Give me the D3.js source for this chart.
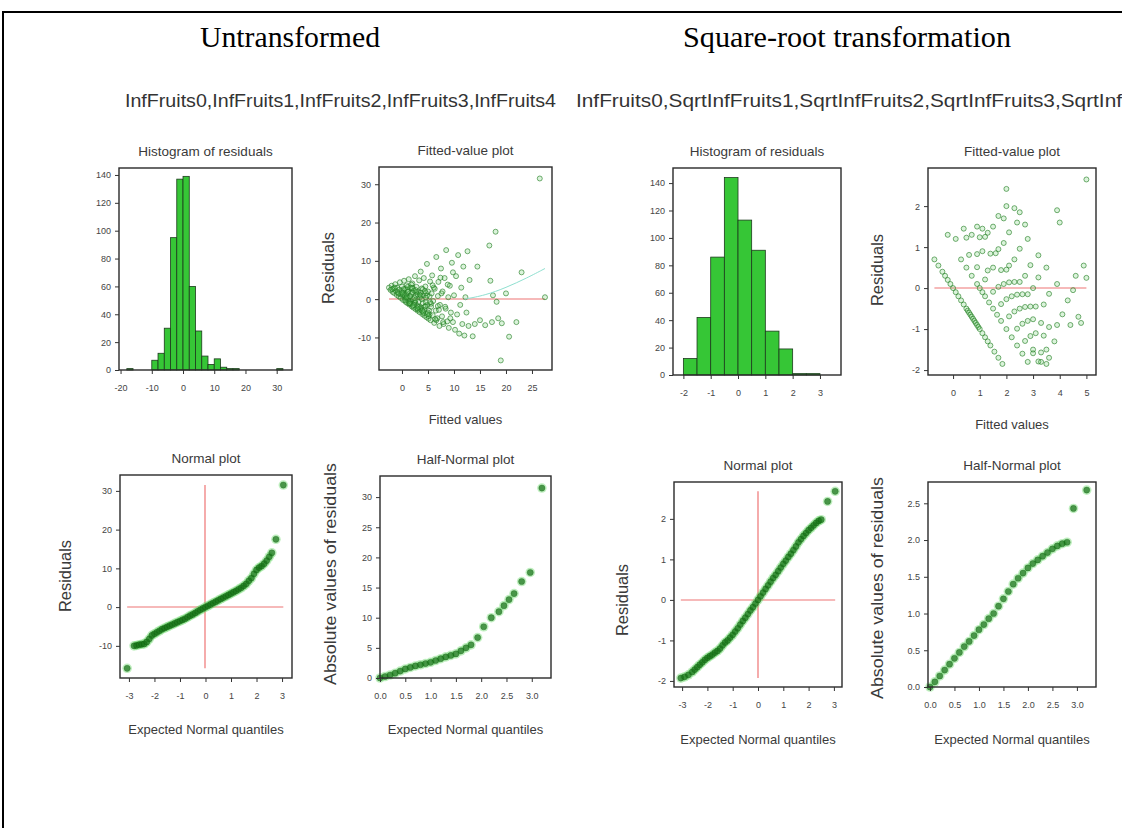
<!DOCTYPE html>
<html><head><meta charset="utf-8">
<script src="https://cdn.jsdelivr.net/npm/d3@7"></script>
<style>body{margin:0;background:#fff;} svg{display:block;}</style>
</head><body><svg id="chart" width="1122" height="828"></svg>
<script>
// ---------------- DATA ----------------
const pageTitles = ["Untransformed", "Square-root transformation"];
const subTitles = ["InfFruits0,InfFruits1,InfFruits2,InfFruits3,InfFruits4",
                   "InfFruits0,SqrtInfFruits1,SqrtInfFruits2,SqrtInfFruits3,SqrtInfFruits4"];

// Histogram, untransformed (bin width 2)
const histBinStartU = [-18,-10,-8,-6,-4,-2,0,2,4,6,8,10,12,14,16,30];
const histCountU    = [1,7,12,30,95,137,139,60,28,10,4,8,2,1,1,1];
const histBinWidthU = 2;
// Histogram, square-root (bin width 0.5)
const histBinStartS = [-2,-1.5,-1,-0.5,0,0.5,1,1.5,2,2.5];
const histCountS    = [12,42,86,144,113,91,32,19,1,1];
const histBinWidthS = 0.5;

// Fitted-value plot, untransformed
const fittedU = [-2.5,-2.2,-2.0,-1.8,-1.6,-1.5,-1.3,-1.2,-1.0,-0.9,-0.8,-0.6,-0.5,-0.4,-0.3,-0.2,-0.1,0.0,
 0.2,0.3,0.4,0.5,0.6,0.7,0.8,0.9,1.0,1.1,1.2,1.3,1.4,1.5,1.6,1.7,1.8,1.9,2.0,2.1,2.2,2.3,2.4,2.5,2.6,2.7,2.8,2.9,3.0,
 3.1,3.2,3.3,3.4,3.5,3.6,3.7,3.8,3.9,4.0,4.1,4.2,4.3,4.4,4.5,4.6,4.7,4.8,4.9,5.0,5.1,5.2,5.3,5.4,5.5,5.6,5.7,5.8,5.9,6.0,
 6.2,6.3,6.5,6.6,6.8,6.9,7.0,7.2,7.3,7.5,7.7,7.8,8.0,8.2,8.4,8.5,8.7,8.9,9.0,9.2,9.4,9.6,9.8,10.0,
 10.2,10.4,10.6,10.8,11.0,11.2,11.4,11.6,11.8,12.0,12.2,12.4,12.6,12.8,13.0,
 13.6,14.0,14.5,15.0,16.0,16.8,17.0,17.3,17.5,18.0,18.2,18.5,19.0,19.2,20.0,20.6,22.0,23.0,26.5,27.5,
 0.5,1.0,1.5,2.0,2.5,3.0,3.5,4.0,4.5,5.0,0.8,1.3,1.8,2.3,2.8,3.3,3.8,4.3,4.8,5.3,1.1,1.6,2.1,2.6,3.1,3.6,4.1,4.6,
 0.1,0.6,1.1,1.6,2.1,2.6,3.1,3.6,4.1,4.6,5.1,5.6,6.1,6.6,7.1,7.6,0.3,0.9,1.4,1.9,2.4,2.9,3.4,3.9,4.4,4.9,5.4,5.9,6.4,6.9,7.4,7.9,8.3,8.8,9.3,9.8,-0.7,-1.4,-1.9,0.0];
const residU = [3.0,2.4,3.5,1.9,2.8,1.6,3.9,2.2,1.1,3.0,1.8,0.7,2.5,4.4,1.3,0.3,2.0,3.3,
 -0.2,1.6,4.8,0.5,2.7,-0.7,1.2,3.6,-1.0,0.4,2.0,5.2,-1.4,0.6,3.0,-0.7,1.4,-1.9,4.1,0.0,-2.2,2.2,-1.0,6.0,-2.6,0.9,3.2,-1.6,-3.0,
 1.9,-0.7,4.9,-3.4,0.5,7.2,-2.2,2.8,-3.9,-1.0,1.0,5.5,-4.3,-2.0,3.3,0.4,-4.7,9.2,-1.5,2.0,-5.1,-3.0,0.7,4.6,-5.5,-2.0,1.5,6.2,-4.2,-0.5,
 -6.2,2.7,-3.0,11.0,-5.0,0.8,4.5,-7.0,-1.5,8.0,-4.5,2.0,-6.5,5.5,-2.5,12.8,-5.8,0.5,-7.5,3.5,-3.5,9.5,-6.0,1.0,
 -8.0,6.0,-4.0,11.5,-9.0,-1.5,3.0,-6.5,8.5,-9.5,0.5,-3.5,12.5,-7.0,5.0,
 -9.7,-6.5,8.5,-5.5,-6.8,14.0,4.8,-6.0,1.0,17.6,-0.7,-5.0,-16.0,-6.3,1.5,-9.8,-6.0,7.0,31.5,0.5,
 1.0,2.5,-1.0,1.8,-0.8,1.2,-2.5,2.6,-1.8,-3.5,0.2,-0.5,3.8,-1.5,1.8,-2.0,0.0,-2.8,0.9,-4.0,3.2,-1.2,2.8,-0.3,-2.7,1.7,-3.3,-0.8,
 1.2,-0.3,1.9,0.8,-1.7,2.4,-2.1,0.9,-3.6,1.6,-4.4,-1.2,3.0,-5.5,-2.8,1.5,2.6,0.5,-1.1,2.9,0.3,-2.4,1.2,-3.0,2.1,-3.9,-0.8,3.6,-5.2,-1.8,5.6,-6.0,-2.0,3.8,-5.0,7.0,1.5,3.0,2.6,1.7];
const smoothFitU = [12, 16, 20, 24, 27.5];
const smoothResU = [0.0, 1.0, 3.0, 5.5, 8.0];

// Fitted-value plot, square-root
const fittedS = [-0.7,-0.55,-0.4,-0.3,-0.2,-0.1,0.0,0.1,0.2,0.3,0.4,0.5,0.55,0.6,0.65,0.7,0.75,0.8,0.85,0.9,0.95,1.0,1.1,1.2,1.3,1.4,1.55,1.7,1.85,
 0.3,0.5,0.7,0.9,1.0,1.1,1.2,1.35,1.5,1.65,1.8,2.0,2.2,2.4,2.6,2.8,
 0.6,0.9,1.2,1.5,1.8,2.1,2.4,2.7,3.0,3.2,
 0.5,0.9,1.3,1.7,2.0,2.3,2.6,2.9,3.3,
 0.7,1.1,1.5,1.9,2.2,2.5,2.8,3.1,3.5,
 1.0,1.4,1.8,2.1,2.4,2.7,3.0,3.4,
 1.2,1.6,2.0,2.3,2.6,2.9,3.3,
 1.3,1.7,2.1,2.5,2.8,3.1,3.6,
 1.5,1.9,2.3,2.7,3.0,3.4,3.9,
 1.7,2.1,2.5,2.9,3.2,3.6,4.1,
 2.0,2.4,2.8,3.2,3.5,3.9,4.3,4.7,
 -0.2,0.1,0.4,1.1,2.0,2.3,3.9,4.0,5.0,4.9,5.0,4.5,4.6,4.4,4.8,3.8,3.6,3.5,2.5,1.9,2.7,3.0,3.3,0.9];
const residS = [0.7,0.55,0.4,0.3,0.2,0.1,0.0,-0.1,-0.2,-0.3,-0.4,-0.5,-0.55,-0.6,-0.65,-0.7,-0.75,-0.8,-0.85,-0.9,-0.95,-1.0,-1.1,-1.2,-1.3,-1.4,-1.55,-1.7,-1.85,
 0.7,0.5,0.3,0.1,0.0,-0.1,-0.2,-0.35,-0.5,-0.65,-0.8,-1.0,-1.2,-1.4,-1.6,-1.8,
 0.81,0.51,0.21,-0.09,-0.39,-0.69,-0.99,-1.29,-1.59,-1.79,
 1.23,0.83,0.43,0.03,-0.27,-0.57,-0.87,-1.17,-1.57,
 1.3,0.9,0.5,0.1,-0.2,-0.5,-0.8,-1.1,-1.5,
 1.24,0.84,0.44,0.14,-0.16,-0.46,-0.76,-1.16,
 1.25,0.85,0.45,0.15,-0.15,-0.45,-0.85,
 1.35,0.95,0.55,0.15,-0.15,-0.45,-0.95,
 1.5,1.1,0.7,0.3,0.0,-0.4,-0.9,
 1.76,1.36,0.96,0.56,0.26,-0.14,-0.64,
 2.0,1.6,1.2,0.8,0.5,0.1,-0.3,-0.7,
 1.3,1.2,1.45,1.45,2.42,1.95,1.9,1.6,2.65,0.55,0.25,-0.05,0.3,-0.9,-0.85,-1.3,-1.7,-1.85,1.85,1.7,1.55,-1.5,-1.8,1.5];

// Normal plot (expected quantile, residual), untransformed
const normQU = [-3.07,-2.8,-2.7,-2.6,-2.5,-2.4,-2.3,-2.2,-2.1,-2.0,-1.9,-1.8,-1.7,-1.6,-1.5,-1.4,-1.3,-1.2,-1.1,-1.0,-0.9,-0.8,-0.7,-0.6,-0.5,-0.4,-0.3,-0.2,-0.1,0.0,
 0.1,0.2,0.3,0.4,0.5,0.6,0.7,0.8,0.9,1.0,1.1,1.2,1.3,1.4,1.5,1.6,1.7,1.8,1.9,2.0,2.1,2.2,2.3,2.4,2.5,2.6,2.76,3.05];
const normRU = [-15.8,-10.0,-9.9,-9.7,-9.6,-9.5,-9.0,-8.2,-7.3,-6.9,-6.5,-6.1,-5.7,-5.4,-5.1,-4.8,-4.5,-4.2,-3.9,-3.6,-3.3,-3.0,-2.6,-2.2,-1.9,-1.5,-1.1,-0.7,-0.35,0.0,
 0.35,0.7,1.05,1.4,1.75,2.1,2.45,2.8,3.15,3.5,3.85,4.2,4.6,5.0,5.5,6.0,6.8,7.5,8.6,9.6,10.2,10.6,11.2,12.0,13.0,14.0,17.5,31.5];
// Half-normal plot, untransformed
const hnQU = [0.0,0.1,0.2,0.3,0.4,0.5,0.6,0.7,0.8,0.9,1.0,1.1,1.2,1.3,1.4,1.5,1.6,1.7,1.8,1.93,2.05,2.2,2.35,2.45,2.55,2.65,2.8,2.97,3.2];
const hnRU = [0.0,0.25,0.5,0.8,1.15,1.5,1.75,2.0,2.2,2.4,2.6,2.9,3.2,3.5,3.75,4.0,4.5,5.0,5.5,6.7,8.5,10.0,11.0,12.0,13.0,14.0,16.0,17.5,31.5];

// Normal plot, square-root
const normQS = [-3.05,-2.9,-2.75,-2.6,-2.5,-2.4,-2.3,-2.2,-2.1,-2.0,-1.9,-1.8,-1.7,-1.6,-1.5,-1.4,-1.3,-1.2,-1.1,-1.0,-0.9,-0.8,-0.7,-0.6,-0.5,-0.4,-0.3,-0.2,-0.1,0.0,
 0.1,0.2,0.3,0.4,0.5,0.6,0.7,0.8,0.9,1.0,1.1,1.2,1.3,1.4,1.5,1.6,1.7,1.8,1.9,2.0,2.1,2.2,2.3,2.4,2.5,2.75,3.05];
const normRS = [-1.93,-1.9,-1.85,-1.78,-1.72,-1.66,-1.6,-1.54,-1.48,-1.43,-1.39,-1.35,-1.3,-1.26,-1.2,-1.12,-1.05,-1.0,-0.93,-0.86,-0.78,-0.7,-0.61,-0.52,-0.44,-0.35,-0.26,-0.18,-0.09,0.0,
 0.09,0.18,0.27,0.36,0.45,0.54,0.62,0.71,0.8,0.89,0.97,1.06,1.14,1.23,1.32,1.42,1.5,1.58,1.65,1.72,1.78,1.84,1.9,1.95,1.98,2.43,2.68];
// Half-normal plot, square-root
const hnQS = [0.0,0.1,0.2,0.3,0.4,0.5,0.6,0.7,0.8,0.9,1.0,1.1,1.2,1.3,1.4,1.5,1.6,1.7,1.8,1.9,2.0,2.1,2.2,2.3,2.4,2.5,2.6,2.7,2.8,2.93,3.2];
const hnRS = [0.0,0.07,0.15,0.23,0.31,0.39,0.47,0.55,0.62,0.7,0.78,0.85,0.93,1.0,1.1,1.2,1.3,1.4,1.48,1.55,1.62,1.68,1.73,1.78,1.83,1.88,1.92,1.95,1.97,2.43,2.68];

// tick values
const ticksHistUx = [-20,-10,0,10,20,30];
const ticksHistY  = [0,20,40,60,80,100,120,140];
const ticksFitUx  = [0,5,10,15,20,25];
const ticksResU   = [-10,0,10,20,30];
const ticksQ      = [-3,-2,-1,0,1,2,3];
const ticksHalfQ  = [0,0.5,1,1.5,2,2.5,3];
const ticksHalfU  = [0,5,10,15,20,25,30];
const ticksHistSx = [-2,-1,0,1,2,3];
const ticksFitSx  = [0,1,2,3,4,5];
const ticksResS   = [-2,-1,0,1,2];
const ticksHalfS  = [0,0.5,1,1.5,2,2.5];

// ---------------- DRAWING ----------------
const W = 1122, H = 828;
const SANS = "'Liberation Sans', Arial, Helvetica, sans-serif";
const svg = d3.select("#chart");
svg.append("rect").attr("width", W).attr("height", H).attr("fill", "#fff");
svg.append("path").attr("d", `M3,${H + 10}V12H${W + 10}`).attr("fill", "none").attr("stroke", "#000").attr("stroke-width", 2);

function txt(g, s, x, y, o = {}) {
  const t = g.append("text").attr("x", x).attr("y", y).text(s)
    .attr("text-anchor", o.anchor || "middle")
    .attr("font-size", o.fs || 12)
    .attr("fill", o.fill || "#3a3a3a")
    .attr("font-family", o.ff || SANS);
  if (o.rot) t.attr("transform", `rotate(-90,${x},${y})`).attr("dominant-baseline", "central");
  if (o.len) t.attr("textLength", o.len).attr("lengthAdjust", "spacingAndGlyphs");
  return t;
}

// page titles
const SERIF = "'Liberation Serif','Times New Roman',serif";
txt(svg, pageTitles[0], 290, 47, {fs: 29, ff: SERIF, fill: "#000", len: 180});
txt(svg, pageTitles[1], 847, 47, {fs: 29, ff: SERIF, fill: "#000", len: 328});
const st1 = txt(svg, subTitles[0], 125, 107, {anchor: "start", fs: 19, fill: "#333"});
st1.attr("textLength", 431).attr("lengthAdjust", "spacingAndGlyphs");
// second subtitle runs past the right page edge, as in the reference (visible part ends after "...SqrtInf")
const st2 = txt(svg, subTitles[1], 576, 107, {anchor: "start", fs: 19, fill: "#333"});
const visiblePart = subTitles[1].slice(0, subTitles[1].lastIndexOf("SqrtInf") + 7);
const probe = txt(svg, visiblePart, 0, -50, {anchor: "start", fs: 19});
const kx = 546 / probe.node().getComputedTextLength();
probe.remove();
st2.attr("textLength", st2.node().getComputedTextLength() * kx).attr("lengthAdjust", "spacingAndGlyphs");

const fmtInt = d => String(d);
const fmt1 = d => d.toFixed(1);

function panel(p) {
  const g = svg.append("g");
  const x = d3.scaleLinear().domain(p.xd).range([p.L, p.R]);
  const y = d3.scaleLinear().domain(p.yd).range([p.B, p.T]);
  const content = g.append("g");
  g.append("rect").attr("x", p.L).attr("y", p.T).attr("width", p.R - p.L).attr("height", p.B - p.T)
    .attr("fill", "none").attr("stroke", "#2a2a2a").attr("stroke-width", 1.4);
  const xa = g.append("g").attr("transform", `translate(0,${p.B})`)
    .call(d3.axisBottom(x).tickValues(p.xt).tickFormat(p.xf || fmtInt).tickSize(4).tickPadding(11));
  const ya = g.append("g").attr("transform", `translate(${p.L},0)`)
    .call(d3.axisLeft(y).tickValues(p.yt).tickFormat(p.yf || fmtInt).tickSize(4).tickPadding(4));
  [xa, ya].forEach(a => {
    a.select(".domain").remove();
    a.selectAll(".tick line").attr("stroke", "#333").attr("stroke-width", 1);
    a.selectAll(".tick text").attr("font-size", 9).attr("fill", "#444").attr("font-family", SANS);
  });
  txt(g, p.title, (p.L + p.R) / 2, p.T - 12, {fs: 13.5});
  if (p.xl) txt(g, p.xl, (p.L + p.R) / 2, p.xly, {fs: 13});
  if (p.yl) txt(g, p.yl, p.ylx, p.yly, {fs: 16, rot: true, len: p.yll});
  return {g: content, x, y};
}

function hist(p, starts, counts, w) {
  const P = panel(p);
  P.g.selectAll("rect.bar").data(starts.map((s, i) => [s, counts[i]])).join("rect")
    .attr("x", d => P.x(d[0])).attr("width", d => P.x(d[0] + w) - P.x(d[0]))
    .attr("y", d => P.y(d[1])).attr("height", d => P.y(0) - P.y(d[1]))
    .attr("fill", "#36c636").attr("stroke", "#1d3a1d").attr("stroke-width", 0.8);
}

function scatter(p, xs, ys, refLines, style) {
  const P = panel(p);
  const pts = xs.map((v, i) => [v, ys[i]]);
  const red = "#ee7474";
  const px = v => Math.round(v);   // whole-pixel position: line covers two half-lit pixels (soft pink like the reference)
  if (refLines === "h") {
    const ext = d3.extent(xs);
    P.g.append("line").attr("x1", P.x(ext[0])).attr("x2", P.x(ext[1])).attr("y1", px(P.y(0))).attr("y2", px(P.y(0)))
      .attr("stroke", red).attr("stroke-width", 1.2);
  } else if (refLines === "cross") {
    const ex = d3.extent(xs), ey = d3.extent(ys);
    P.g.append("line").attr("x1", P.x(ex[0])).attr("x2", P.x(ex[1])).attr("y1", px(P.y(0))).attr("y2", px(P.y(0)))
      .attr("stroke", red).attr("stroke-width", 1.2);
    P.g.append("line").attr("x1", px(P.x(0))).attr("x2", px(P.x(0))).attr("y1", P.y(ey[0])).attr("y2", P.y(ey[1]))
      .attr("stroke", red).attr("stroke-width", 1.2);
  }
  if (style === "band") {
    P.g.append("g").selectAll("circle").data(pts).join("circle")
      .attr("cx", d => P.x(d[0])).attr("cy", d => P.y(d[1])).attr("r", 4.8)
      .attr("fill", "#62d862").attr("fill-opacity", 0.4);
    P.g.append("g").selectAll("circle").data(pts).join("circle")
      .attr("cx", d => P.x(d[0])).attr("cy", d => P.y(d[1])).attr("r", 3.1)
      .attr("fill", "#167016").attr("fill-opacity", 0.7)
      .attr("stroke", "#0b5a0b").attr("stroke-opacity", 0.5).attr("stroke-width", 0.6);
  } else {
    P.g.append("g").selectAll("circle").data(pts).join("circle")
      .attr("cx", d => P.x(d[0])).attr("cy", d => P.y(d[1])).attr("r", 2.5)
      .attr("fill", "#5cc85c").attr("fill-opacity", 0.22)
      .attr("stroke", "#237e23").attr("stroke-opacity", 0.7).attr("stroke-width", 0.9);
  }
  return P;
}

// ---- Left group (untransformed)
hist({L:119,R:292,T:168,B:370,xd:[-20.5,34.9],yd:[0,145],xt:ticksHistUx,yt:ticksHistY,
      title:"Histogram of residuals"}, histBinStartU, histCountU, histBinWidthU);

const PB = scatter({L:379,R:552,T:167,B:370,xd:[-4.42,28.85],yd:[-18.5,34.5],xt:ticksFitUx,yt:ticksResU,
      title:"Fitted-value plot", xl:"Fitted values", xly:424, yl:"Residuals", ylx:328, yly:268, yll:72},
      fittedU, residU, "h", "open");
PB.g.append("path").datum(smoothFitU.map((v, i) => [v, smoothResU[i]]))
  .attr("d", d3.line().x(d => PB.x(d[0])).y(d => PB.y(d[1])).curve(d3.curveBasis))
  .attr("fill", "none").attr("stroke", "#8fe0d0").attr("stroke-width", 1);

scatter({L:120,R:292,T:475,B:678,xd:[-3.35,3.39],yd:[-18.3,34.1],xt:ticksQ,yt:ticksResU,
      title:"Normal plot", xl:"Expected Normal quantiles", xly:734, yl:"Residuals", ylx:65, yly:576, yll:72},
      normQU, normRU, "cross", "band");

scatter({L:380,R:551,T:476,B:678,xd:[0,3.38],yd:[0,33.5],xt:ticksHalfQ,xf:fmt1,yt:ticksHalfU,
      title:"Half-Normal plot", xl:"Expected Normal quantiles", xly:734, yl:"Absolute values of residuals", ylx:330, yly:574, yll:222},
      hnQU, hnRU, null, "band");

// ---- Right group (square-root)
hist({L:673,R:841,T:168,B:375,xd:[-2.38,3.77],yd:[0,151],xt:ticksHistSx,yt:ticksHistY,
      title:"Histogram of residuals"}, histBinStartS, histCountS, histBinWidthS);

scatter({L:928,R:1096,T:168,B:375,xd:[-0.94,5.36],yd:[-2.12,2.93],xt:ticksFitSx,yt:ticksResS,
      title:"Fitted-value plot", xl:"Fitted values", xly:429, yl:"Residuals", ylx:877, yly:270, yll:72},
      fittedS, residS, "h", "open");

scatter({L:674,R:842,T:482,B:687,xd:[-3.32,3.32],yd:[-2.15,2.91],xt:ticksQ,yt:ticksResS,
      title:"Normal plot", xl:"Expected Normal quantiles", xly:744, yl:"Residuals", ylx:622, yly:600, yll:72},
      normQS, normRS, "cross", "band");

scatter({L:928,R:1096,T:482,B:687,xd:[-0.04,3.39],yd:[0,2.79],xt:ticksHalfQ,xf:fmt1,yt:ticksHalfS,yf:fmt1,
      title:"Half-Normal plot", xl:"Expected Normal quantiles", xly:744, yl:"Absolute values of residuals", ylx:877, yly:588, yll:222},
      hnQS, hnRS, null, "band");
</script></body></html>
